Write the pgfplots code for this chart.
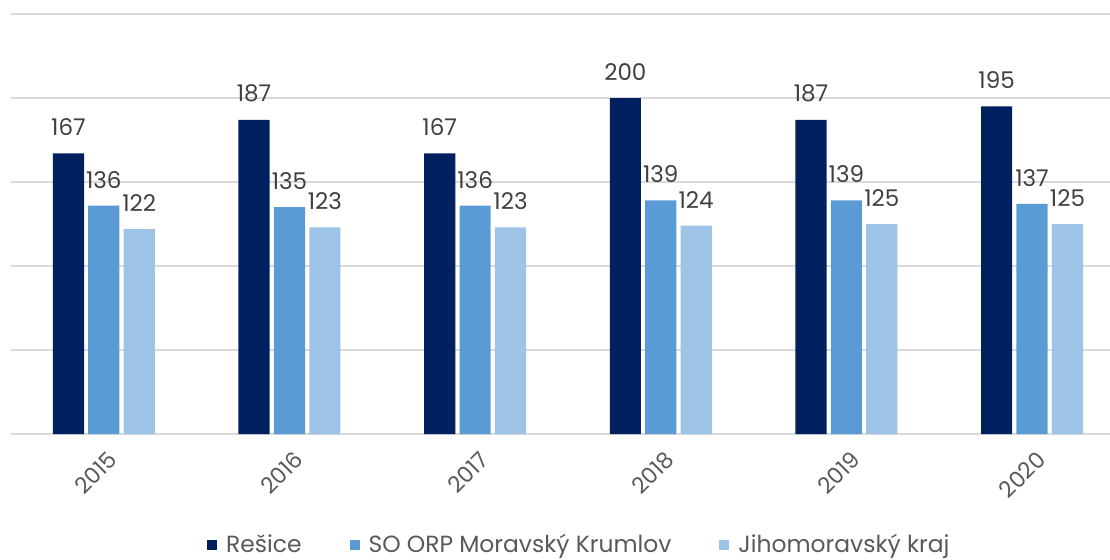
\documentclass[border=0pt]{standalone}
\usepackage{fontspec}
\setmainfont{Poppins}
\usepackage{pgfplots}
\pgfplotsset{compat=1.18}

\definecolor{resice}{HTML}{002060}
\definecolor{orp}{HTML}{5B9BD5}
\definecolor{kraj}{HTML}{9DC3E6}
\definecolor{gridc}{HTML}{D9D9D9}
\definecolor{txt}{HTML}{595959}
\definecolor{lbl}{HTML}{404040}

\begin{document}
\begin{tikzpicture}
\useasboundingbox (-5.5pt,-62.5pt) rectangle (549.5pt,217pt);
\begin{axis}[
    scale only axis,
    width=549.5pt, height=210pt,
    ybar=2.1pt, bar width=15.6pt,
    xmin=-0.5, xmax=5.42,
    ymin=0, ymax=250,
    xtick=data,
    xticklabels={2015,2016,2017,2018,2019,2020},
    ytick={0,50,...,250},
    yticklabels={},
    ymajorgrids,
    grid style={gridc, line width=0.8pt},
    axis line style={draw=none},
    major tick length=0pt,
    tick style={draw=none},
    /pgf/number format/assume math mode=true,
    xticklabel style={font=\fontsize{11.2}{13}\selectfont, text=txt, rotate=45, anchor=east, yshift=-11pt, xshift=-1pt},
    nodes near coords,
    every node near coord/.append style={font=\fontsize{11.5}{13}\selectfont, text=lbl, inner sep=0pt, yshift=8.5pt},
    legend columns=3,
    legend style={at={(0.518,-0.264)}, anchor=center, draw=none, fill=none,
        font=\fontsize{11.7}{14}\selectfont, text=txt,
        /tikz/every odd column/.append style={column sep=2.5pt},
        /tikz/every even column/.append style={column sep=22pt}},
    legend image code/.code={\fill[#1] (0pt,-2.5pt) rectangle (5pt,2.5pt);},
]
\addplot[fill=resice, draw=none] coordinates {(0,167)(1,187)(2,167)(3,200)(4,187)(5,195)};
\addlegendentry{Rešice}
\addplot[fill=orp, draw=none] coordinates {(0,136)(1,135)(2,136)(3,139)(4,139)(5,137)};
\addlegendentry{SO ORP Moravský Krumlov}
\addplot[fill=kraj, draw=none] coordinates {(0,122)(1,123)(2,123)(3,124)(4,125)(5,125)};
\addlegendentry{Jihomoravský kraj}
\end{axis}
\end{tikzpicture}
\end{document}
